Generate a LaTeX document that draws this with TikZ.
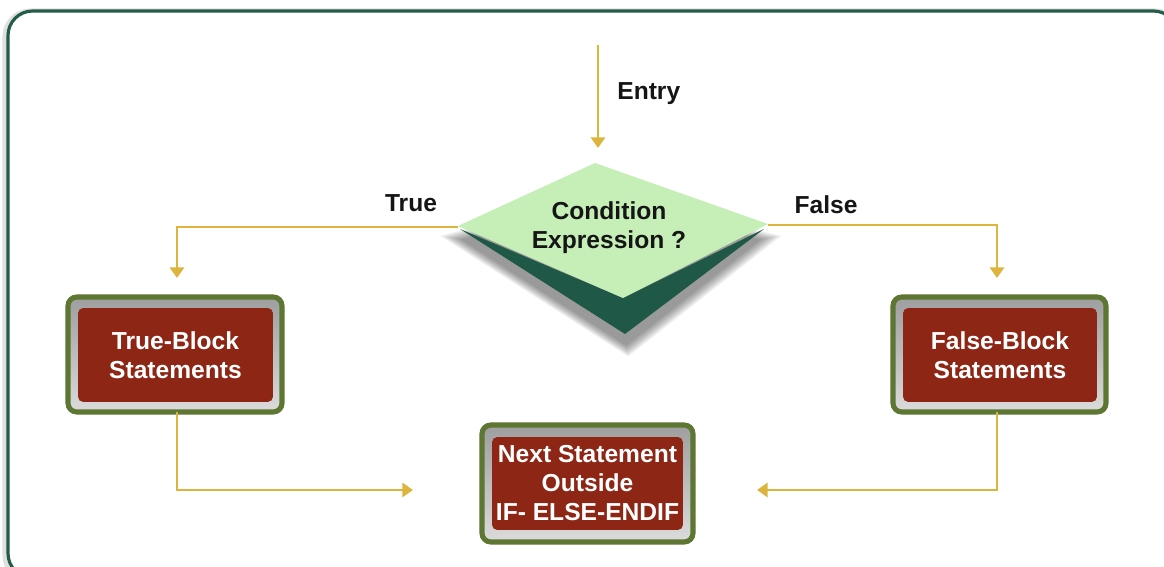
\documentclass[tikz,border=0pt]{standalone}
\usepackage{fontspec}
\setmainfont{Liberation Sans}
\usetikzlibrary{arrows.meta}

\definecolor{framegreen}{HTML}{245C4A}
\definecolor{flowgold}{HTML}{DDB43C}
\definecolor{boxgreen}{HTML}{5D7632}
\definecolor{boxred}{HTML}{8E2616}
\definecolor{condlight}{HTML}{C6EEB7}
\definecolor{conddark}{HTML}{1F5846}
\definecolor{labelink}{HTML}{151515}

\tikzset{
  flow/.style={draw=flowgold, line width=1.6pt, -{Triangle[width=8pt,length=6pt]}},
  flowlabel/.style={font=\bfseries\fontsize{14}{16.5}\selectfont, text=labelink},
  blockframe/.style={draw=boxgreen, line width=2.9pt, rounded corners=5pt,
    top color=black!38, bottom color=black!14, inner sep=0pt},
  blockcore/.style={fill=boxred, rounded corners=3pt, text=white, align=center,
    font=\bfseries\fontsize{14}{16.5}\selectfont, inner sep=0pt},
}

\begin{document}
\begin{tikzpicture}[x=0.02cm, y=-0.02cm]
  \useasboundingbox (0,0) rectangle (1164,567);
  \clip (0,0) rectangle (1164,567);

  % outer panel
  \draw[black!12, line width=4pt, rounded corners=14pt] (6,12) rectangle (1180,580);
  \draw[framegreen, line width=1.8pt, fill=white, rounded corners=14pt] (8,11) rectangle (1178,578);

  % soft shadow under the decision diamond
  \foreach \s in {1.16,1.14,...,1.0}{
    \fill[black, opacity=0.06, scale around={\s:(612,266)}]
      (464,240) -- (600,204) -- (758,240) -- (626,344) -- cycle;
  }
  % decision diamond: dark underside, light top face
  \fill[conddark] (460,229) -- (625,334) -- (764,229) -- (623,298) -- cycle;
  \fill[condlight] (595,163) -- (768,224) -- (623,298) -- (458,226) -- cycle;
  \node[flowlabel, align=center] (cond) at (609,228) {Condition\\Expression ?};
  \coordinate (condleft) at (458,227);
  \coordinate (condright) at (768,225);

  % entry
  \coordinate (entry) at (598,45);
  \coordinate (entryend) at (598,148);
  \draw[flow] (entry) -- (entryend);
  \node[flowlabel, anchor=west, inner sep=0pt] (entrylabel) at (617,94) {Entry};

  % branch blocks
  \node[blockframe, minimum width=4.28cm, minimum height=2.3cm] (tb) at (175,354.5) {};
  \node[blockcore, minimum width=3.9cm, minimum height=1.88cm] (tbc) at (175.5,355) {True-Block\\Statements};

  \node[blockframe, minimum width=4.26cm, minimum height=2.3cm] (fb) at (999.5,354.5) {};
  \node[blockcore, minimum width=3.88cm, minimum height=1.88cm] (fbc) at (1000,355) {False-Block\\Statements};

  \node[blockframe, minimum width=4.22cm, minimum height=2.34cm] (nx) at (587.5,483.5) {};
  \node[blockcore, minimum width=3.82cm, minimum height=1.86cm]
    (nxc) at (587.5,483.5) {Next Statement\\Outside\\IF- ELSE-ENDIF};

  % branch connectors
  \coordinate (tbin) at (177,278);
  \coordinate (fbin) at (997,278);
  \draw[flow] (condleft) -| (tbin);
  \draw[flow] (condright) -| (fbin);
  \node[flowlabel] (truelabel) at (411,203) {True};
  \node[flowlabel] (falselabel) at (826,205) {False};

  % merge connectors
  \coordinate (tbout) at (177,412);
  \coordinate (fbout) at (997,412);
  \coordinate (mergeleft) at (413,490);
  \coordinate (mergeright) at (757,490);
  \draw[flow] (tbout) |- (mergeleft);
  \draw[flow] (fbout) |- (mergeright);
\end{tikzpicture}
\end{document}
